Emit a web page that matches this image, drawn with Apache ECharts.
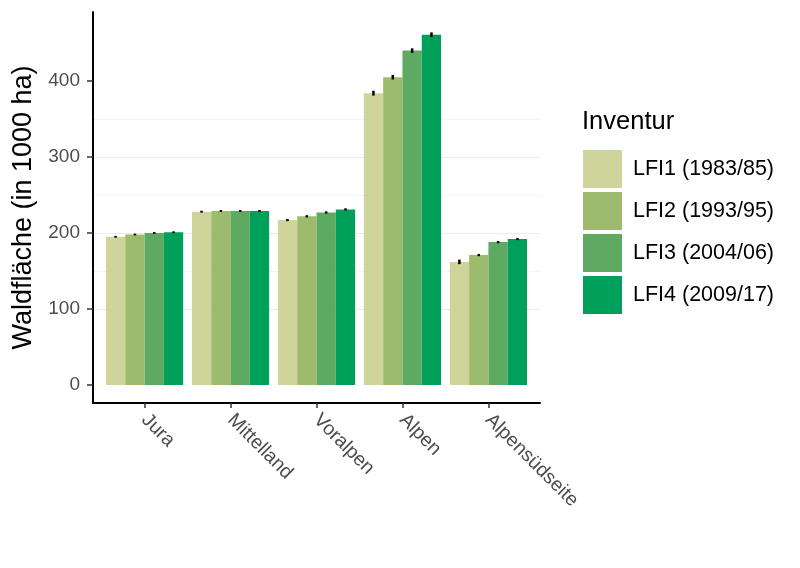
<!DOCTYPE html>
<html>
<head>
<meta charset="utf-8">
<script src="https://cdn.jsdelivr.net/npm/echarts@6/dist/echarts.min.js"></script>
<style>html,body{margin:0;padding:0;background:#fff;}#c{width:800px;height:568px;}</style>
</head>
<body>
<div id="c"></div>
<script>
const categories = ['Jura', 'Mittelland', 'Voralpen', 'Alpen', 'Alpensüdseite'];
const inventories = ['LFI1 (1983/85)', 'LFI2 (1993/95)', 'LFI3 (2004/06)', 'LFI4 (2009/17)'];
const colors = ['#CFD59A', '#9CBB6E', '#5FAA63', '#00A05A'];
const lfi1 = [195, 228, 217, 384, 162];
const lfi2 = [198, 229, 222, 405, 171];
const lfi3 = [200, 229, 227, 440, 188];
const lfi4 = [201, 229, 231, 461, 192];
const se1 = [1.2, 1.3, 1.5, 3.2, 3.0];
const se2 = [1.2, 1.3, 1.5, 3.0, 1.5];
const se3 = [1.2, 1.3, 1.5, 3.0, 1.5];
const se4 = [1.2, 1.3, 1.5, 3.0, 1.5];
const majorBreaks = [0, 100, 200, 300, 400];
const minorBreaks = [50, 150, 250, 350, 450];

const values = [lfi1, lfi2, lfi3, lfi4];
const errors = [se1, se2, se3, se4];
const dodge = 0.225;
const font = 'Liberation Sans, Arial, sans-serif';

const chart = echarts.init(document.getElementById('c'));
const series = [];
values.forEach((vals, s) => {
  series.push({
    name: inventories[s],
    type: 'bar',
    xAxisIndex: 0, yAxisIndex: 0,
    barWidth: 19.3,
    barGap: '0%',
    itemStyle: { color: colors[s] },
    data: vals.map((v, i) => [i, v])
  });
});
values.forEach((vals, s) => {
  series.push({
    name: 'err' + s,
    type: 'custom',
    xAxisIndex: 0, yAxisIndex: 0,
    silent: true,
    z: 5,
    data: vals.map((v, i) => [i, v - errors[s][i], v + errors[s][i]]),
    renderItem: function (params, api) {
      const x = api.value(0) + (s - 1.5) * dodge;
      const p1 = api.coord([x, api.value(1)]);
      const p2 = api.coord([x, api.value(2)]);
      return {
        type: 'line',
        shape: { x1: p1[0], y1: p1[1], x2: p2[0], y2: p2[1] },
        style: { stroke: '#000', lineWidth: 2.5 }
      };
    }
  });
});

chart.setOption({
  animation: false,
  backgroundColor: '#fff',
  textStyle: { fontFamily: font },
  title: {
    text: 'Inventur', left: 577, top: 104,
    textStyle: { fontSize: 25.5, fontWeight: 'normal', color: '#000', fontFamily: font }
  },
  legend: {
    data: inventories,
    orient: 'vertical',
    left: 578, top: 145,
    itemWidth: 39, itemHeight: 38, itemGap: 4,
    icon: 'rect',
    textStyle: { fontSize: 21.5, color: '#000', fontFamily: font, padding: [0, 0, 0, 6] }
  },
  grid: { left: 93, right: 260, top: 12, bottom: 165 },
  xAxis: {
    type: 'value', min: -0.6, max: 4.6,
    axisLine: { show: true, onZero: false, lineStyle: { color: '#000', width: 2 } },
    axisTick: { show: true, customValues: [0, 1, 2, 3, 4], length: 5, lineStyle: { color: '#333', width: 1.5 } },
    axisLabel: {
      customValues: [0, 1, 2, 3, 4],
      rotate: -45, margin: 14,
      fontSize: 19.5, color: '#4D4D4D', fontFamily: font,
      formatter: function (v) { return categories[Math.round(v)]; }
    },
    splitLine: { show: false }
  },
  yAxis: [{
    type: 'value', min: -23.7, max: 490.8, position: 'left',
    name: 'Waldfläche (in 1000 ha)', nameLocation: 'middle', nameGap: 55,
    nameTextStyle: { fontSize: 27, color: '#000', fontFamily: font },
    axisLine: { show: true, onZero: false, lineStyle: { color: '#000', width: 2 } },
    axisTick: { show: true, customValues: majorBreaks, length: 6, lineStyle: { color: '#333', width: 1.5 } },
    axisLabel: { customValues: majorBreaks, fontSize: 19, color: '#4D4D4D', margin: 13, fontFamily: font },
    splitLine: { show: true, showMinLine: false, showMaxLine: false, lineStyle: { color: '#EBEBEB', width: 1.2 } }
  }, {
    type: 'value', min: -23.7, max: 490.8, position: 'left',
    axisLine: { show: false },
    axisTick: { show: false, customValues: minorBreaks },
    axisLabel: { show: false, customValues: minorBreaks },
    splitLine: { show: true, showMinLine: false, showMaxLine: false, lineStyle: { color: '#F0F0F0', width: 0.8 } }
  }],
  series: series
});
</script>
</body>
</html>
